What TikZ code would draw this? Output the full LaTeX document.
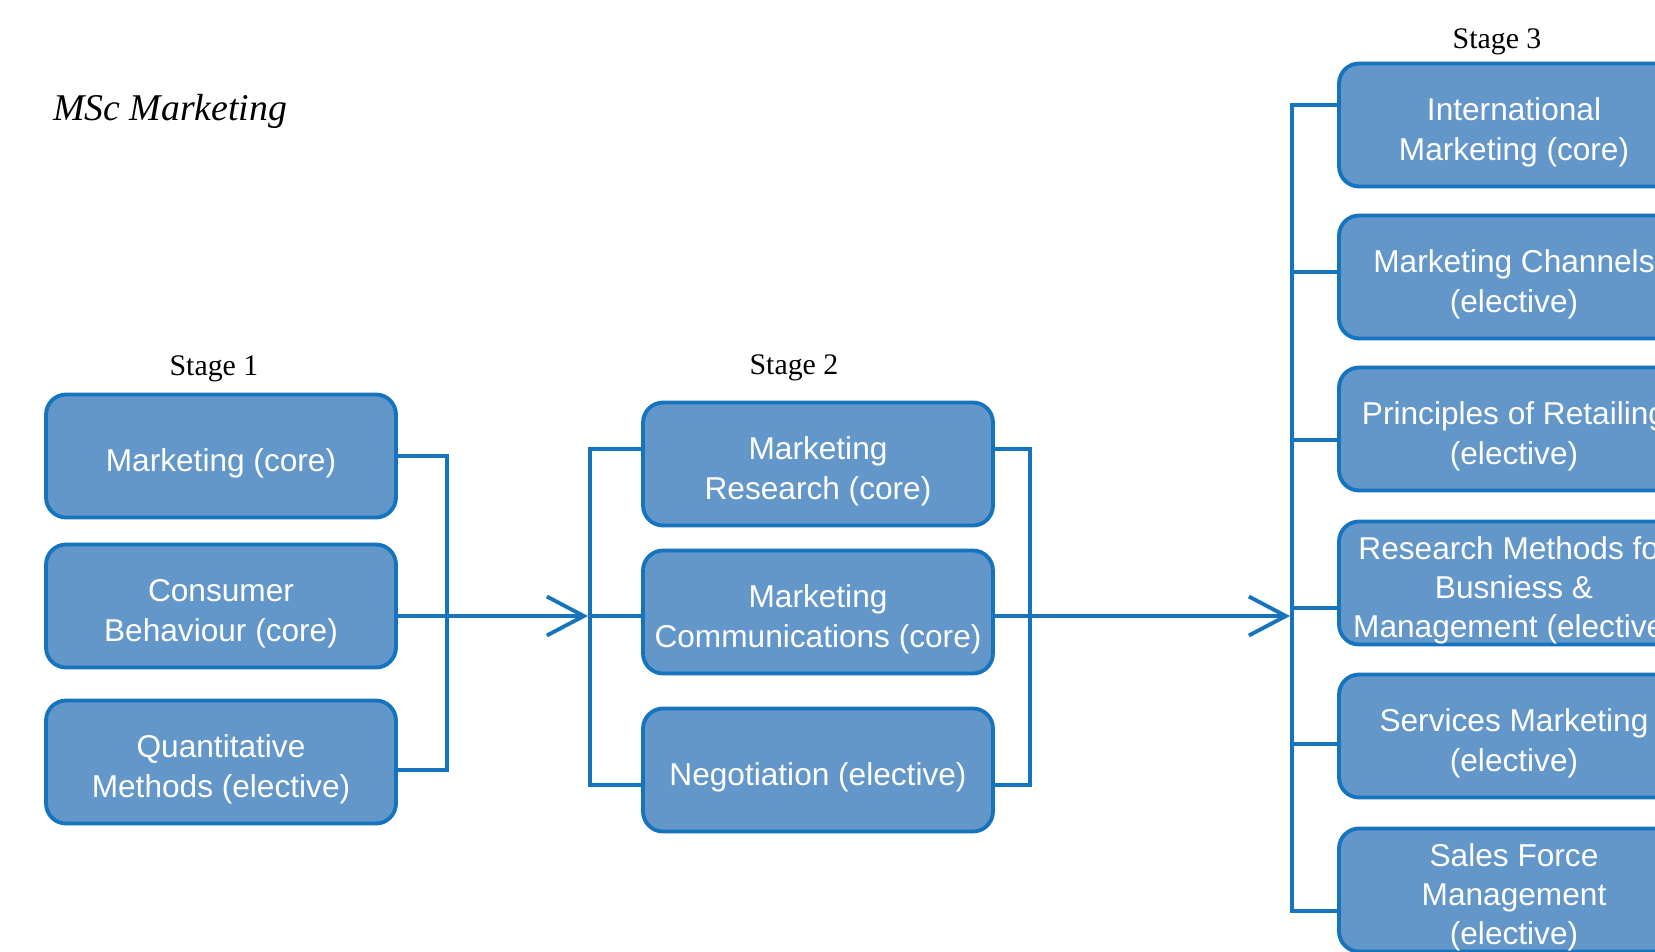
\documentclass[tikz,border=0pt]{standalone}
\usepackage{fontspec}
\setmainfont{Liberation Serif}
\setsansfont{Liberation Sans}
\usetikzlibrary{arrows.meta}

\definecolor{boxfill}{RGB}{99,151,201}
\definecolor{boxline}{RGB}{22,116,190}

\tikzset{
	course/.style={draw=boxline, fill=boxfill, line width=2.2pt, rounded corners=0.4cm,
		minimum width=7cm, minimum height=2.46cm, inner ysep=0pt, inner xsep=-0.2cm,
		text width=7.4cm, align=flush center,
		text=white, font=\sffamily\fontsize{18}{22.4}\selectfont,
		execute at begin node={\rule{0pt}{21.5pt}}},
	link/.style={draw=boxline, line width=2.2pt},
	stagearrow/.style={link, -{Straight Barb[length=0.74cm, width=0.78cm]}},
	stagelabel/.style={anchor=base, font=\fontsize{17}{20}\selectfont}
}

\begin{document}
\begin{tikzpicture}[x=0.02cm, y=-0.02cm]
		\useasboundingbox (0,0) rectangle (1655,951);
		\clip (0,0) rectangle (1655,951);
		
		\node[anchor=base west, font=\itshape\fontsize{21.5}{26}\selectfont] (title) at (47,120) {MSc Marketing};
		
		% stage 1
		\node[stagelabel] (st1) at (214,375) {Stage 1};
		\node[course] (s1a) at (221,456) {Marketing (core)};
		\node[course] (s1b) at (221,606) {Consumer\\ Behaviour (core)};
		\node[course] (s1c) at (221,762) {Quantitative\\ Methods (elective)};
		
		% stage 2
		\node[stagelabel] (st2) at (794,374) {Stage 2};
		\node[course] (s2a) at (818,464) {Marketing\\ Research (core)};
		\node[course] (s2b) at (818,612) {Marketing\\ Communications (core)};
		\node[course] (s2c) at (818,770) {Negotiation (elective)};
		
		% stage 3
		\node[stagelabel] (st3) at (1497,48) {Stage 3};
		\node[course] (s3a) at (1514,125) {International\\ Marketing (core)};
		\node[course] (s3b) at (1514,277) {Marketing Channels\\ (elective)};
		\node[course] (s3c) at (1514,429) {Principles of Retailing\\ (elective)};
		\node[course] (s3d) at (1514,583) {Research Methods for\\ Busniess \&\\ Management (elective)};
		\node[course] (s3e) at (1514,736) {Services Marketing\\ (elective)};
		\node[course] (s3f) at (1514,890) {Sales Force\\ Management\\ (elective)};
		
		\coordinate (j1) at (447,616);
		\coordinate (j2) at (590,616);
		\coordinate (j3) at (1030,616);
		\coordinate (j4) at (1292,616);
		
		\draw[link] (s1a.east) -| (j1) |- ([yshift=-0.16cm]s1c.east);
		\draw[stagearrow] (s1b.east |- j2) -- ([xshift=-0.04cm]j2);
		
		\draw[link] ([yshift=0.3cm]s2a.west) -| (j2) |- ([yshift=-0.3cm]s2c.west);
		\draw[link] (j2) -- (s2b.west |- j2);
		\draw[link] ([yshift=0.3cm]s2a.east) -| (j3) |- ([yshift=-0.3cm]s2c.east);
		\draw[stagearrow] (s2b.east |- j3) -- ([xshift=-0.04cm]j4);
		
		\draw[link] (s3a.west |- 0,105) -| (j4) |- ([yshift=-0.42cm]s3f.west);
		\draw[link] (j4 |- 0,272) -- (s3b.west |- 0,272);
		\draw[link] (j4 |- 0,440) -- (s3c.west |- 0,440);
		\draw[link] (j4 |- 0,608) -- (s3d.west |- 0,608);
		\draw[link] (j4 |- 0,744) -- (s3e.west |- 0,744);
	\end{tikzpicture}
\end{document}
